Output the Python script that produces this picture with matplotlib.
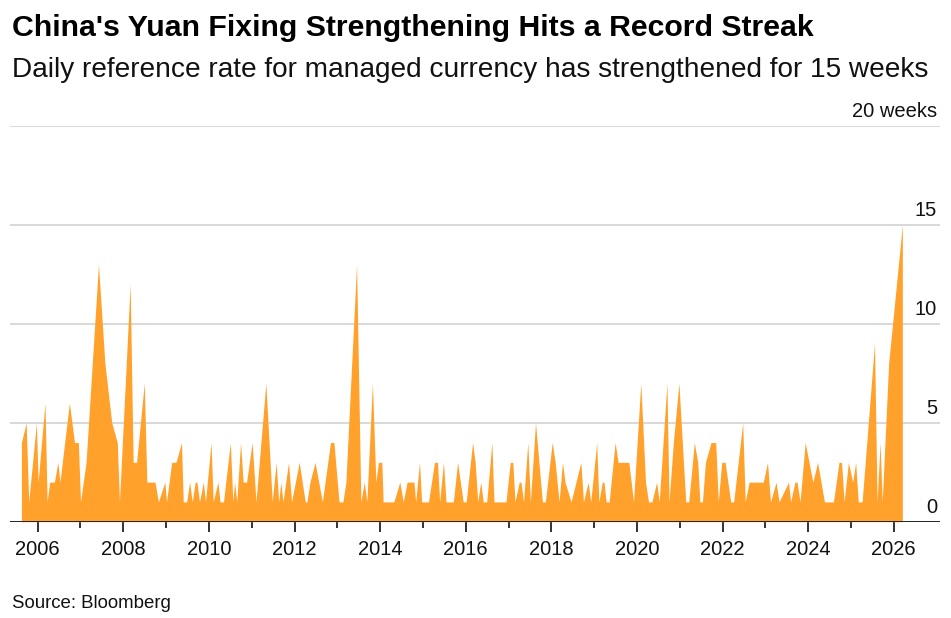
import matplotlib
matplotlib.use("Agg")
import matplotlib.pyplot as plt
import numpy as np

# ── DATA ──────────────────────────────────────────────────────────────────────
# Length (weeks) of each run of yuan fixing strengthening, by date (decimal year)

years = [
    2005.62, 2005.73, 2005.79, 2005.97, 2006.01, 2006.17, 2006.22, 2006.28, 2006.39, 2006.47,
    2006.52, 2006.74, 2006.86, 2006.95, 2007.00, 2007.13, 2007.42, 2007.57, 2007.73, 2007.86,
    2007.91, 2008.16, 2008.23, 2008.31, 2008.49, 2008.55, 2008.74, 2008.82, 2008.97, 2009.01,
    2009.13, 2009.23, 2009.36, 2009.40, 2009.48, 2009.55, 2009.61, 2009.68, 2009.72, 2009.78,
    2009.87, 2009.92, 2010.05, 2010.10, 2010.21, 2010.26, 2010.34, 2010.50, 2010.56, 2010.60,
    2010.65, 2010.74, 2010.80, 2010.88, 2011.01, 2011.10, 2011.33, 2011.48, 2011.57, 2011.63,
    2011.68, 2011.73, 2011.86, 2011.93, 2012.11, 2012.25, 2012.29, 2012.36, 2012.48, 2012.65,
    2012.84, 2012.92, 2013.04, 2013.13, 2013.20, 2013.45, 2013.55, 2013.63, 2013.69, 2013.82,
    2013.90, 2013.96, 2014.04, 2014.07, 2014.32, 2014.46, 2014.54, 2014.63, 2014.79, 2014.83,
    2014.92, 2014.97, 2015.13, 2015.27, 2015.34, 2015.39, 2015.48, 2015.54, 2015.71, 2015.81,
    2015.94, 2016.01, 2016.16, 2016.22, 2016.28, 2016.35, 2016.41, 2016.49, 2016.61, 2016.66,
    2016.94, 2017.04, 2017.10, 2017.15, 2017.25, 2017.29, 2017.35, 2017.45, 2017.51, 2017.63,
    2017.79, 2017.86, 2018.02, 2018.09, 2018.18, 2018.26, 2018.32, 2018.46, 2018.69, 2018.75,
    2018.86, 2018.92, 2019.06, 2019.11, 2019.19, 2019.23, 2019.28, 2019.35, 2019.49, 2019.56,
    2019.81, 2019.92, 2020.09, 2020.20, 2020.27, 2020.35, 2020.46, 2020.52, 2020.70, 2020.75,
    2020.85, 2020.98, 2021.14, 2021.21, 2021.34, 2021.42, 2021.47, 2021.53, 2021.60, 2021.73,
    2021.84, 2021.90, 2021.98, 2022.06, 2022.19, 2022.26, 2022.47, 2022.53, 2022.62, 2022.95,
    2023.05, 2023.12, 2023.25, 2023.32, 2023.54, 2023.59, 2023.69, 2023.74, 2023.81, 2023.93,
    2024.11, 2024.22, 2024.38, 2024.59, 2024.72, 2024.78, 2024.84, 2024.94, 2025.04, 2025.11,
    2025.17, 2025.26, 2025.55, 2025.61, 2025.68, 2025.73, 2025.88, 2026.20,
]

weeks = [
    4, 5, 1, 5, 2, 6, 1, 2, 2, 3,
    2, 6, 4, 4, 1, 3, 13, 8, 5, 4,
    1, 12, 3, 3, 7, 2, 2, 1, 2, 1,
    3, 3, 4, 1, 1, 2, 1, 2, 2, 1,
    2, 1, 4, 1, 2, 1, 1, 4, 1, 2,
    1, 4, 2, 2, 4, 1, 7, 1, 3, 1,
    2, 1, 3, 1, 3, 1, 1, 2, 3, 1,
    4, 4, 1, 1, 2, 13, 1, 2, 1, 7,
    2, 3, 3, 1, 1, 2, 1, 2, 2, 1,
    3, 1, 1, 3, 3, 1, 3, 1, 1, 3,
    1, 1, 4, 3, 1, 2, 1, 1, 4, 1,
    1, 3, 3, 1, 2, 2, 1, 4, 1, 5,
    1, 1, 4, 3, 1, 3, 2, 1, 3, 1,
    2, 1, 4, 1, 2, 2, 1, 1, 4, 3,
    3, 1, 7, 2, 1, 1, 2, 1, 7, 1,
    4, 7, 1, 1, 4, 3, 1, 1, 3, 4,
    4, 1, 3, 3, 1, 1, 5, 1, 2, 2,
    3, 1, 2, 1, 2, 1, 2, 2, 1, 4,
    2, 3, 1, 1, 3, 3, 1, 3, 2, 3,
    1, 1, 9, 1, 4, 1, 8, 15,
]

ytick_values = [0, 5, 10, 15, 20]
ytick_labels = ["0", "5", "10", "15", "20 weeks"]
xtick_years = list(range(2006, 2027, 2))
minor_years = list(range(2007, 2027, 2))

title = "China's Yuan Fixing Strengthening Hits a Record Streak"
subtitle = "Daily reference rate for managed currency has strengthened for 15 weeks"
source = "Source: Bloomberg"

# ── STYLE ─────────────────────────────────────────────────────────────────────

plt.rcParams["font.family"] = ["Liberation Sans", "DejaVu Sans"]
ORANGE = "#ffa12b"
GRID = "#d6d6d6"
AXIS = "#222222"

W, H = 951, 618
fig = plt.figure(figsize=(W / 100, H / 100), dpi=100)

# axes box in pixels: left 10, right 940, baseline 521.7, top (20) 126
ax = fig.add_axes([10 / W, (H - 521.7) / H, 930 / W, (521.7 - 126) / H])
ax.fill_between(years, weeks, 0, color=ORANGE, linewidth=0, zorder=2)

ax.set_xlim(2005.353, 2027.08)
ax.set_ylim(0, 20)

for v in ytick_values[1:]:
    ax.axhline(v, color=GRID, linewidth=1.3, zorder=1)
ax.axhline(0, color=AXIS, linewidth=1.4, zorder=3)

for v, lab in zip(ytick_values, ytick_labels):
    ax.annotate(lab, xy=(1.0, v), xycoords=("axes fraction", "data"),
                xytext=(-2, 6.5), textcoords="offset points",
                ha="right", va="baseline", fontsize=14.5, color="#111111")

for s in ax.spines.values():
    s.set_visible(False)
ax.set_yticks([])
ax.set_xticks(xtick_years)
ax.set_xticklabels([str(y) for y in xtick_years])
ax.set_xticks(minor_years, minor=True)
ax.tick_params(axis="x", which="major", length=7, width=1.3, color=AXIS,
               labelsize=14.5, pad=6, labelcolor="#111111")
ax.tick_params(axis="x", which="minor", length=4, width=1.3, color=AXIS)

fig.text(12 / W, 1 - 36 / H, title, fontsize=21.8, fontweight="bold",
         ha="left", va="baseline", color="#000000")
fig.text(12 / W, 1 - 77 / H, subtitle, fontsize=20.2,
         ha="left", va="baseline", color="#111111")
fig.text(12 / W, 1 - 608 / H, source, fontsize=13.4,
         ha="left", va="baseline", color="#111111")

fig.savefig("out.png", dpi=100)
